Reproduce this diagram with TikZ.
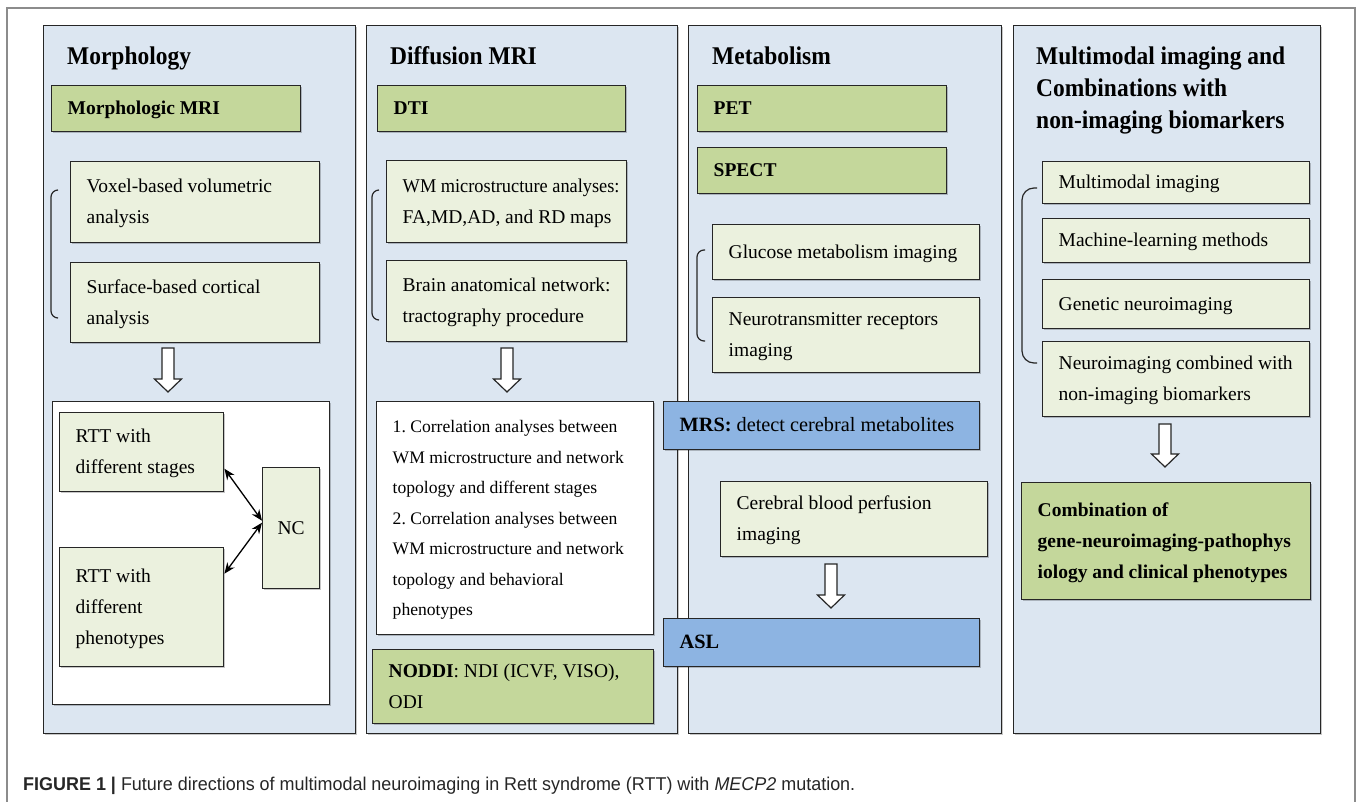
\documentclass[tikz,border=0pt]{standalone}
\usepackage{fontspec}
\setmainfont{Liberation Serif}
\newfontfamily\titlefont[FakeStretch=0.92]{Liberation Serif}
\newfontfamily\capfont{Liberation Sans}
\usetikzlibrary{calc,arrows.meta,shadows}

\definecolor{panelbg}{HTML}{DCE6F1}
\definecolor{lightgreen}{HTML}{EBF1DE}
\definecolor{darkgreen}{HTML}{C4D79B}
\definecolor{bluebox}{HTML}{8DB4E2}
\definecolor{framegray}{HTML}{8C8C8C}
\definecolor{edge}{HTML}{262626}

% box with top-left corner (#3,#4) and bottom-right corner (#5,#6), left-aligned lines
\newcommand\drawbox[7]{%
  \node[#2, anchor=north west, minimum width={(#5-#3)*1pt}, minimum height={(#6-#4)*1pt}] (#1) at (#3,#4)
  {\makebox[\dimexpr#5pt-#3pt\relax][l]{\hspace{16pt}\begin{tabular}{@{}l@{}}#7\end{tabular}}};}

% hollow block arrow between two named points
\newcommand\hollowarrow[2]{%
  \draw[blockarrow] let \p1=(#1), \p2=(#2) in
    (\x1-6pt,\y1) -- (\x1+6pt,\y1) -- (\x1+6pt,\y2+13pt) -- (\x1+13.5pt,\y2+13pt)
    -- (\x1,\y2) -- (\x1-13.5pt,\y2+13pt) -- (\x1-6pt,\y2+13pt) -- cycle;}

\tikzset{
  boxbase/.style={draw=edge, line width=1.4pt, inner sep=0pt, text=black,
    font=\fontsize{19.5}{31}\selectfont,
    drop shadow={shadow xshift=1pt, shadow yshift=-1pt, fill=black, opacity=0.22}},
  lgbox/.style={boxbase, fill=lightgreen},
  dgbox/.style={boxbase, fill=darkgreen, font=\fontsize{19.5}{31}\selectfont\bfseries},
  dgplain/.style={boxbase, fill=darkgreen},
  blbox/.style={boxbase, fill=bluebox, font=\fontsize{20.3}{31}\selectfont},
  wbox/.style={boxbase, fill=white, font=\fontsize{17.6}{30.5}\selectfont},
  panel/.style={boxbase, fill=panelbg},
  title/.style={font=\titlefont\fontsize{25.5}{32}\selectfont\bfseries, inner sep=0pt, anchor=base west, text=black},
  brace/.style={draw=edge, line width=1.2pt},
  blockarrow/.style={draw=edge, line width=1.2pt, fill=white, line join=miter},
  link/.style={{Stealth[length=11pt,width=9pt]}-{Stealth[length=11pt,width=9pt]}, line width=1.3pt, black}
}

\begin{document}
\begin{tikzpicture}[x=1pt, y=-1pt]
\useasboundingbox (0,0) rectangle (1358,802);

% outer frame
\draw[framegray, line width=1.5pt] (7,802) -- (7,8) -- (1355,8) -- (1355,802);

% column panels
\drawbox{p1}{panel}{43}{25}{355}{733}{}
\drawbox{p2}{panel}{366}{25}{677}{733}{}
\drawbox{p3}{panel}{688}{25}{1001}{733}{}
\drawbox{p4}{panel}{1013}{25}{1320}{733}{}

% ---- Morphology ----
\node[title] (t1) at (67,65) {Morphology};
\drawbox{mmri}{dgbox}{51}{85}{300}{131}{Morphologic MRI}
\drawbox{vox}{lgbox}{70}{161}{319}{242}{Voxel-based volumetric\\analysis}
\drawbox{srf}{lgbox}{70}{262}{319}{342}{Surface-based cortical\\analysis}
\draw[brace, rounded corners=7pt] (58,190) -- (51,190) -- (51,318) -- (58,318);
\coordinate (a1s) at (168,348);
\coordinate (a1e) at (168,392);
\hollowarrow{a1s}{a1e}
\drawbox{grp}{wbox}{52}{401}{329}{704}{}
\drawbox{rs}{lgbox}{59}{412}{223}{491}{RTT with\\different stages}
\drawbox{rp}{lgbox}{59}{547}{223}{666}{RTT with\\different\\phenotypes}
\node[lgbox, anchor=north west, minimum width=57pt, minimum height=121pt] (nc) at (262,467) {NC};
\draw[link] ([yshift=-16.5pt]rs.east) -- ([yshift=7.5pt]nc.west);
\draw[link] ([yshift=5.5pt]nc.west) -- ([yshift=33.5pt]rp.east);

% ---- Diffusion MRI ----
\node[title] (t2) at (390,65) {Diffusion MRI};
\drawbox{dti}{dgbox}{377}{85}{625}{131}{DTI}
\drawbox{wm}{lgbox}{386}{160}{626}{242}{\scalebox{0.94}[1]{WM microstructure analyses:}\\FA,MD,AD, and RD maps}
\drawbox{ban}{lgbox}{386}{260}{626}{341}{Brain anatomical network:\\tractography procedure}
\draw[brace, rounded corners=7pt] (379,190) -- (372,190) -- (372,320) -- (379,320);
\coordinate (a2s) at (507,348);
\coordinate (a2e) at (507,392);
\hollowarrow{a2s}{a2e}
\drawbox{corr}{wbox}{376}{401}{653}{634}{1.\ Correlation analyses between\\WM microstructure and network\\topology and different stages\\2.\ Correlation analyses between\\WM microstructure and network\\topology and behavioral\\phenotypes}
\drawbox{noddi}{dgplain}{372}{649}{653}{723}{\textbf{NODDI}: NDI (ICVF, VISO),\\ODI}

% ---- Metabolism ----
\node[title] (t3) at (712,65) {Metabolism};
\drawbox{pet}{dgbox}{697}{85}{946}{131}{PET}
\drawbox{spect}{dgbox}{697}{147}{946}{193}{SPECT}
\drawbox{glu}{lgbox}{712}{224}{979}{279}{Glucose metabolism imaging}
\drawbox{ntr}{lgbox}{712}{297}{979}{372}{Neurotransmitter receptors\\imaging}
\draw[brace, rounded corners=7pt] (705,250) -- (697,250) -- (697,341) -- (705,341);
\drawbox{mrs}{blbox}{663}{401}{979}{449}{\textbf{MRS:} detect cerebral metabolites}
\drawbox{cbf}{lgbox}{720}{481}{987}{556}{Cerebral blood perfusion\\imaging}
\coordinate (a3s) at (831,564);
\coordinate (a3e) at (831,608);
\hollowarrow{a3s}{a3e}
\drawbox{asl}{blbox}{663}{618}{979}{666}{\textbf{ASL}}

% ---- Multimodal imaging ----
\node[title] (t4) at (1036,65) {\begin{tabular}[t]{@{}l@{}}Multimodal imaging and\\Combinations with\\non-imaging biomarkers\end{tabular}};
\drawbox{mmi}{lgbox}{1042}{161}{1309}{203}{Multimodal imaging}
\drawbox{mlm}{lgbox}{1042}{218}{1309}{262}{Machine-learning methods}
\drawbox{gen}{lgbox}{1042}{279}{1309}{328}{Genetic neuroimaging}
\drawbox{nib}{lgbox}{1042}{341}{1309}{416}{Neuroimaging combined with\\non-imaging biomarkers}
\draw[brace, rounded corners=12pt] (1037,188) -- (1022,188) -- (1022,363) -- (1037,363);
\coordinate (a4s) at (1165,424);
\coordinate (a4e) at (1165,467);
\hollowarrow{a4s}{a4e}
\drawbox{comb}{dgbox}{1021}{482}{1310}{599}{Combination of\\gene-neuroimaging-pathophys\\iology and clinical phenotypes}

% caption
\node[anchor=base west, inner sep=0pt, text=black!85, font=\capfont\fontsize{18.5}{20}\selectfont] (cap) at (23,790)
  {\resizebox{832pt}{\height}{\textbf{FIGURE 1 |} Future directions of multimodal neuroimaging in Rett syndrome (RTT) with \textit{MECP2} mutation.}};
\end{tikzpicture}
\end{document}
